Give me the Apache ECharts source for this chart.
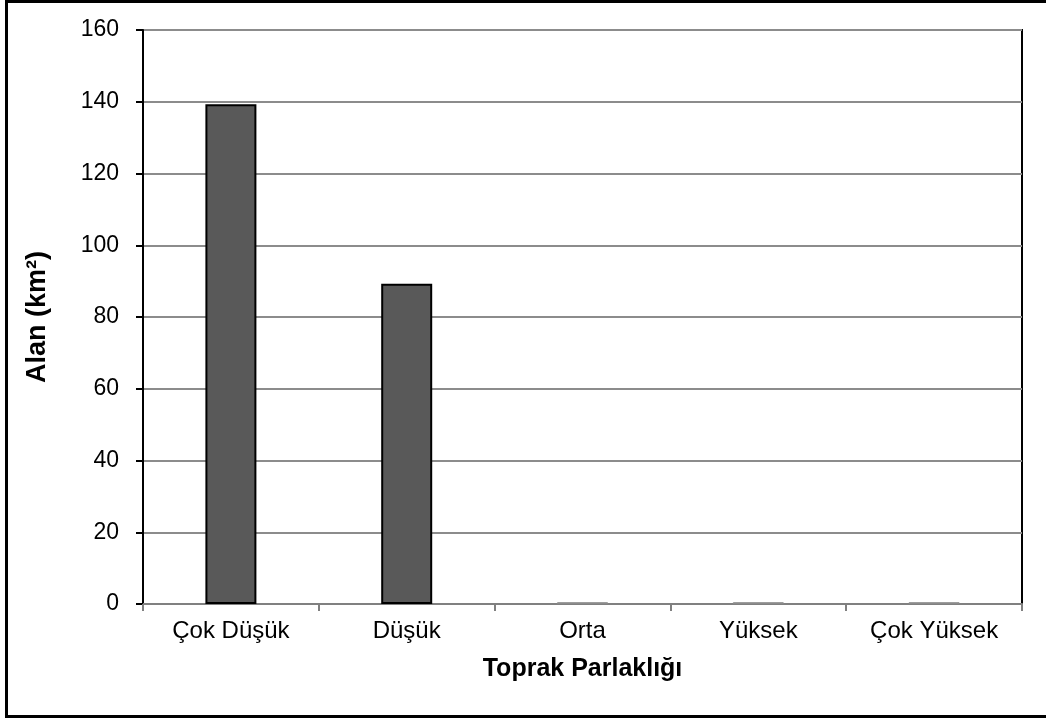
<!DOCTYPE html>
<html>
<head>
<meta charset="utf-8">
<script src="https://cdn.jsdelivr.net/npm/echarts@6/dist/echarts.min.js"></script>
<style>
  html, body { margin: 0; padding: 0; background: #fff; }
  #chart { width: 1046px; height: 720px; }
</style>
</head>
<body>
<div id="chart"></div>
<script>
// Soil brightness classes and their area (km²)
const categories = ['Çok Düşük', 'Düşük', 'Orta', 'Yüksek', 'Çok Yüksek'];
const areaValues = [139.3, 89.3, 0.5, 0.5, 0.5];
const yTicks = { min: 0, max: 160, step: 20 };
const xTitle = 'Toprak Parlaklığı';
const yTitle = 'Alan (km²)';

const font = 'Arial, "Liberation Sans", sans-serif';
const chart = echarts.init(document.getElementById('chart'), null, { renderer: 'canvas' });

// near-zero bars are only a sliver, so their outline is drawn in grey
const barData = areaValues.map(v => v < 1
  ? { value: v, itemStyle: { color: '#8c8c8c', borderColor: '#8c8c8c', borderWidth: 1 } }
  : v);

chart.setOption({
  animation: false,
  backgroundColor: '#ffffff',
  grid: {
    left: 143, right: 24, top: 30, bottom: 116,
    show: true, borderColor: '#000000', borderWidth: 2,
    backgroundColor: 'transparent'
  },
  graphic: [{
    type: 'rect',
    shape: { x: 6.5, y: 1.5, width: 1045, height: 715 },
    style: { fill: 'none', stroke: '#000000', lineWidth: 3 },
    silent: true
  }],
  xAxis: {
    type: 'category',
    data: categories,
    name: xTitle,
    nameLocation: 'middle',
    nameGap: 53,
    nameTextStyle: { fontFamily: font, fontSize: 25, fontWeight: 'bold', color: '#000' },
    axisLine: { z: 1, lineStyle: { color: '#808080', width: 2 } },
    axisTick: { show: true, length: 7, lineStyle: { color: '#808080', width: 2 } },
    axisLabel: { fontFamily: font, fontSize: 24, color: '#000', margin: 15 },
    splitLine: { show: false }
  },
  yAxis: {
    type: 'value',
    min: yTicks.min, max: yTicks.max, interval: yTicks.step,
    name: yTitle,
    nameLocation: 'middle',
    nameGap: 92,
    nameRotate: 90,
    nameTextStyle: { fontFamily: font, fontSize: 27, fontWeight: 'bold', color: '#000' },
    axisLine: { show: true, lineStyle: { color: '#000000', width: 2 } },
    axisTick: { show: true, length: 7, lineStyle: { color: '#000000', width: 2 } },
    axisLabel: { fontFamily: font, fontSize: 23, color: '#000', margin: 24 },
    splitLine: { show: true, lineStyle: { color: '#8c8c8c', width: 2 } }
  },
  series: [{
    type: 'bar',
    data: barData,
    barWidth: 51,
    itemStyle: { color: '#595959', borderColor: '#000000', borderWidth: 2 }
  }]
});
</script>
</body>
</html>
